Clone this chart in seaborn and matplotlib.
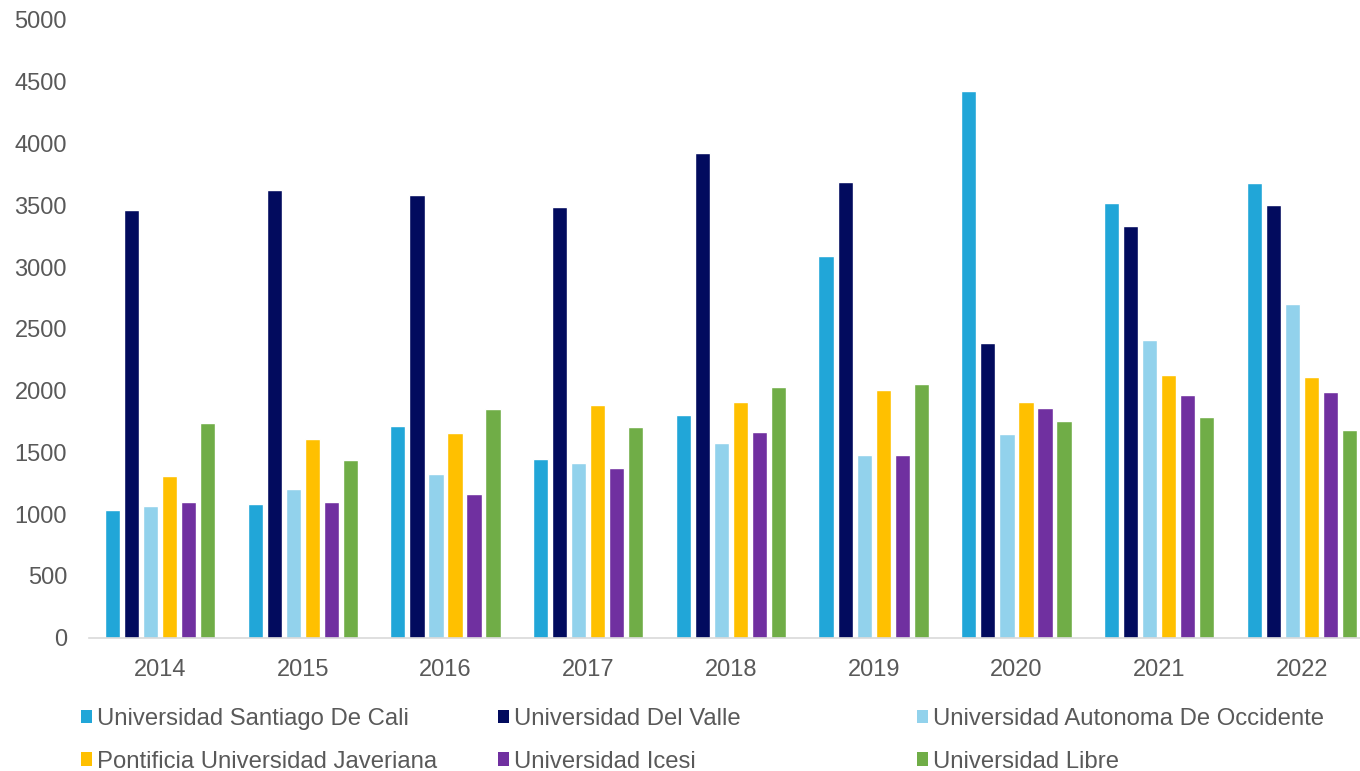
import matplotlib
matplotlib.use("Agg")
import matplotlib.pyplot as plt
import matplotlib.patches as mpatches
import seaborn as sns
import pandas as pd

years = ["2014", "2015", "2016", "2017", "2018", "2019", "2020", "2021", "2022"]
universities = ["Universidad Santiago De Cali", "Universidad Del Valle",
                "Universidad Autonoma De Occidente", "Pontificia Universidad Javeriana",
                "Universidad Icesi", "Universidad Libre"]
santiago = [1035, 1083, 1713, 1444, 1802, 3089, 4424, 3522, 3678]
del_valle = [3460, 3624, 3583, 3488, 3927, 3692, 2384, 3334, 3501]
autonoma = [1069, 1199, 1325, 1417, 1574, 1482, 1648, 2408, 2701]
javeriana = [1308, 1608, 1659, 1887, 1907, 2003, 1911, 2125, 2108]
icesi = [1097, 1097, 1165, 1373, 1666, 1482, 1856, 1962, 1986]
libre = [1737, 1437, 1849, 1703, 2030, 2050, 1757, 1788, 1679]
colors = ["#21A6D8", "#020B5E", "#92D2EC", "#FFC000", "#7030A0", "#70AD47"]

series = [santiago, del_valle, autonoma, javeriana, icesi, libre]
rows = []
for uni, vals in zip(universities, series):
    for y, v in zip(years, vals):
        rows.append({"year": y, "university": uni, "value": v})
df = pd.DataFrame(rows)

sns.set_style("white")
plt.rcParams["font.family"] = ["Liberation Sans", "DejaVu Sans"]
text_color = "#595959"

fig = plt.figure(figsize=(13.6, 7.71), dpi=100)
ax = fig.add_axes([88.6 / 1360, 133.4 / 771, 1 - 88.6 / 1360, (751 - 133.4) / 771])

sns.barplot(data=df, x="year", y="value", hue="university", hue_order=universities,
            palette=colors, width=0.8, gap=0.2, saturation=1, legend=False, ax=ax)

ax.set_xlim(-0.5, 8.407)
ax.set_ylim(0, 5000)
ax.set_yticks(range(0, 5001, 500))
ax.set_xlabel("")
ax.set_ylabel("")
for s in ["top", "right", "left"]:
    ax.spines[s].set_visible(False)
ax.spines["bottom"].set_color("#D9D9D9")
ax.spines["bottom"].set_linewidth(1.2)
ax.tick_params(axis="y", length=0, pad=15.5, labelsize=17, labelcolor=text_color)
ax.tick_params(axis="x", length=0, pad=15.5, labelsize=17, labelcolor=text_color)

# legend: three columns at fixed positions, like the original
handles = [mpatches.Patch(facecolor=c, edgecolor="none", label=u)
           for c, u in zip(colors, universities)]
col_x = [81, 498, 917]
for i, x in enumerate(col_x):
    leg = fig.legend(handles=[handles[i], handles[i + 3]], loc="upper left",
                     bbox_to_anchor=(x / 1360, 1 - 708 / 771), frameon=False,
                     fontsize=17.2, handlelength=0.46, handleheight=0.5,
                     handletextpad=0.21, labelspacing=0.86, borderpad=0, borderaxespad=0)
    for t in leg.get_texts():
        t.set_color(text_color)

fig.savefig("out.png", dpi=100)
